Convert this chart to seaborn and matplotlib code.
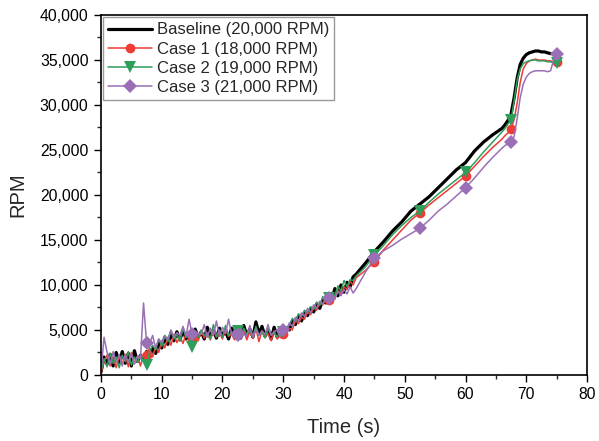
import numpy as np
import seaborn as sns
import matplotlib.pyplot as plt
from matplotlib.ticker import StrMethodFormatter, MultipleLocator

# time axis (s): 0.5 s steps to 42 s, 1.5 s steps to 66 s, then 0.5 s steps to 75 s
t = np.concatenate([np.arange(0, 42.01, 0.5), np.arange(43.5, 66.01, 1.5), np.arange(66.5, 75.01, 0.5)])

# RPM values in thousands
baseline = [0.3, 2.0, 1.2, 2.3, 1.0, 2.5, 1.4, 2.6, 1.3, 2.4, 1.0, 2.7, 1.5, 2.2, 1.8, 2.6, 2.0, 3.0, 2.4, 3.6,
            3.0, 4.2, 3.4, 4.6, 3.8, 4.8, 3.9, 5.0, 4.0, 4.6, 3.8, 5.1, 4.2, 4.8, 4.0, 5.3, 4.3, 4.9, 4.1, 5.2,
            4.4, 4.8, 4.0, 5.2, 4.5, 4.9, 4.1, 5.5, 4.4, 5.1, 4.2, 5.9, 4.6, 5.4, 4.3, 5.0, 4.0, 5.3, 4.2, 4.7,
            4.5, 5.2, 5.0, 6.0, 5.6, 6.5, 6.0, 6.9, 6.6, 7.4, 7.0, 7.9, 7.4, 8.3, 8.0, 8.8, 8.4, 9.6, 8.8, 10.0,
            9.2, 10.3, 9.8, 10.9, 11.2,
            12.4, 13.7, 14.8, 16.0, 17.0, 18.2, 19.0, 19.8, 20.8, 21.8, 22.8, 23.6, 24.9, 25.9, 26.7, 27.4,
            27.8, 28.3, 29.0, 30.8, 33.0, 34.5, 35.2, 35.6, 35.8, 35.9, 36.0, 36.0, 35.9, 35.9, 35.8, 35.7]
case1 = [0.2, 1.5, 2.2, 1.0, 2.0, 0.8, 2.1, 1.2, 2.3, 0.9, 2.5, 1.3, 2.0, 1.0, 2.4, 2.2, 3.0, 2.0, 3.2, 2.5,
         3.8, 3.0, 4.2, 3.3, 4.5, 3.6, 4.3, 3.5, 4.6, 3.9, 3.9, 4.7, 3.8, 4.9, 4.1, 4.6, 3.9, 5.0, 4.2, 4.7,
         4.0, 5.1, 4.3, 4.5, 3.9, 4.6, 4.4, 5.0, 3.9, 4.8, 4.1, 5.2, 3.7, 4.9, 4.2, 4.6, 3.8, 4.9, 4.0, 4.4,
         4.6, 4.8, 5.2, 5.0, 6.1, 5.7, 6.4, 6.2, 7.0, 6.7, 7.5, 7.2, 8.0, 7.8, 8.4, 8.3, 8.9, 8.6, 9.4, 8.9,
         9.8, 9.5, 10.4, 10.0, 10.8,
         11.6, 12.6, 13.9, 15.0, 16.1, 17.2, 18.0, 18.9, 19.7, 20.5, 21.3, 22.1, 23.2, 24.3, 25.3, 26.2,
         26.6, 26.9, 27.3, 28.4, 30.2, 32.5, 34.0, 34.6, 34.9, 35.0, 35.1, 35.0, 35.0, 35.0, 34.9, 34.9, 34.8, 34.8]
case2 = [0.5, 1.8, 0.9, 2.4, 1.3, 2.0, 0.8, 2.2, 1.5, 2.6, 1.1, 2.0, 1.4, 2.3, 1.6, 1.1, 2.6, 3.3, 2.8, 4.0,
         3.2, 4.4, 3.7, 4.9, 4.0, 4.5, 3.8, 5.2, 4.2, 4.4, 3.1, 4.8, 4.2, 5.0, 4.4, 4.7, 4.0, 5.6, 4.3, 5.0,
         4.2, 5.5, 4.4, 4.8, 4.1, 4.9, 4.3, 5.2, 4.5, 5.0, 4.3, 5.4, 4.4, 4.8, 4.1, 5.1, 4.5, 4.7, 4.2, 4.9,
         4.8, 5.3, 5.5, 6.3, 5.9, 6.8, 6.5, 7.2, 6.9, 7.6, 7.3, 8.1, 7.7, 8.7, 8.2, 8.6, 9.2, 8.8, 9.9, 9.3,
         10.5, 9.8, 10.6, 10.5, 11.0,
         12.0, 13.3, 14.4, 15.6, 16.6, 17.5, 18.2, 19.2, 20.1, 20.9, 21.7, 22.5, 23.6, 24.8, 25.9, 27.0,
         27.4, 27.9, 28.3, 30.5, 32.8, 34.0, 34.6, 34.8, 34.9, 35.0, 35.0, 34.9, 34.9, 34.9, 34.8, 34.8, 34.7, 34.7]
case3 = [0.3, 4.2, 2.5, 1.2, 2.6, 1.4, 2.3, 1.0, 2.2, 1.5, 2.4, 1.2, 2.1, 1.8, 8.0, 3.6, 3.5, 4.4, 3.0, 4.0,
         3.6, 4.3, 3.9, 5.0, 4.2, 4.7, 4.4, 5.4, 4.3, 6.2, 4.5, 4.9, 4.6, 4.5, 5.6, 4.2, 5.2, 4.4, 6.0, 4.3,
         5.3, 4.6, 6.2, 4.5, 5.0, 4.4, 5.1, 4.6, 4.3, 5.5, 4.2, 5.1, 4.4, 4.9, 4.5, 5.6, 4.4, 4.8, 5.0, 4.3,
         5.0, 4.9, 5.8, 5.4, 6.4, 6.0, 6.9, 6.5, 7.4, 6.9, 7.8, 7.4, 8.2, 7.9, 8.6, 8.5, 8.9, 8.4, 9.3, 8.8,
         9.5, 9.0, 9.8, 9.1, 9.6,
         11.4, 13.0, 13.8, 14.4, 15.1, 15.7, 16.3, 17.2, 18.2, 19.0, 19.9, 20.8, 21.9, 23.1, 24.2, 25.2,
         25.5, 25.7, 25.9, 26.5, 28.5, 30.8, 32.3, 33.1, 33.5, 33.7, 33.8, 33.8, 33.8, 33.8, 33.7, 33.8, 35.0, 35.7]

labels = ['Baseline (20,000 RPM)', 'Case 1 (18,000 RPM)', 'Case 2 (19,000 RPM)', 'Case 3 (21,000 RPM)']
colors = ['black', '#ee3b36', '#2e9e5b', '#9a6fb5']
markers = [None, 'o', 'v', 'D']
msizes = [0, 7, 8, 7.5]
widths = [2.3, 1.1, 1.1, 1.1]
marker_times = np.arange(7.5, 75.1, 7.5)

sns.set_style('ticks')
plt.rcParams['font.family'] = ['Liberation Sans', 'DejaVu Sans']

fig = plt.figure(figsize=(5.99, 4.41), dpi=100)
ax = fig.add_axes([0.1686, 0.1497, 0.8114, 0.8163])

for vals, lab, c, m, ms, lw in zip([baseline, case1, case2, case3], labels, colors, markers, msizes, widths):
    tt = t[:len(vals)]
    y = np.array(vals) * 1000
    kw = dict(x=tt, y=y, ax=ax, color=c, lw=lw, label=lab, estimator=None, sort=False)
    if m is not None:
        idx = [int(i) for i in np.where(np.isclose(tt[:, None], marker_times).any(axis=1))[0]]
        kw.update(marker=m, markersize=ms, markevery=idx, markeredgewidth=0)
    sns.lineplot(**kw)

ax.set_xlim(0, 80)
ax.set_ylim(0, 40000)
ax.xaxis.set_major_locator(MultipleLocator(10))
ax.xaxis.set_minor_locator(MultipleLocator(5))
ax.yaxis.set_major_locator(MultipleLocator(5000))
ax.yaxis.set_minor_locator(MultipleLocator(2500))
ax.yaxis.set_major_formatter(StrMethodFormatter('{x:,.0f}'))
ax.tick_params(which='major', direction='out', length=5, width=1, labelsize=11.3, colors='black', pad=4)
ax.tick_params(which='minor', direction='out', length=3, width=1)
for s in ax.spines.values():
    s.set_visible(True)
    s.set_color('black')
    s.set_linewidth(1.2)

ax.set_xlabel('Time (s)', fontsize=14.5, labelpad=11)
ax.set_ylabel('RPM', fontsize=14.5, labelpad=9)

ax.legend(loc='upper left', fontsize=12, frameon=True, fancybox=False, edgecolor='#999999',
          borderaxespad=0.15, handlelength=2.6, handletextpad=0.3, labelspacing=0.25,
          borderpad=0.3, framealpha=1)

fig.savefig('out.png', dpi=100)
